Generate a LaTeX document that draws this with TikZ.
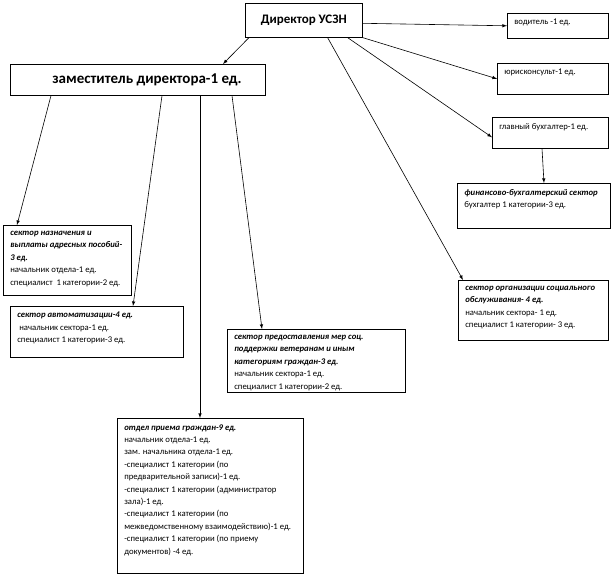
\documentclass[tikz,border=0pt]{standalone}
\usepackage{fontspec}
\setmainfont{Carlito}
\usepackage{tikz}

\newcommand{\cell}[4][t]{\begin{minipage}[c][#3pt][#1]{#2pt}\raggedright #4\end{minipage}}

\begin{document}
\begin{tikzpicture}[x=1pt,y=-1pt,>=latex,
    unit/.style={draw, anchor=north west, inner xsep=7pt, inner ysep=6pt, line width=.6pt},
    small/.style={font=\fontsize{8.7}{12.4}\selectfont},
    link/.style={->, line width=.6pt}]
             \useasboundingbox (0,0) rectangle (615,583);

             % top level
             \node[unit, font=\fontsize{13}{15}\bfseries] (dir) at (245,3) {\cell[c]{103}{22}{\centering Директор УСЗН}};
             \node[unit, font=\fontsize{15}{17}\bfseries] (dep) at (10,64) {\cell[c]{241}{19}{\hspace*{35pt}заместитель директора-1 ед.}};

             % right column
             \node[unit, small] (vod) at (507,13) {\cell{87}{13}{водитель -1 ед.}};
             \node[unit, small] (yur) at (497,63) {\cell{97}{19}{юрисконсульт-1 ед.}};
             \node[unit, small] (glav) at (492,117) {\cell{102}{19}{главный бухгалтер-1 ед.}};
             \node[unit, small] (fin) at (457,183) {\cell{139}{33}{\textbf{\textit{финансово-бухгалтерский сектор}}\\бухгалтер 1 категории-3 ед.}};
             \node[unit, small] (org) at (458,280) {\cell{136}{48}{\textbf{\textit{сектор организации социального\\обслуживания- 4 ед.}}\\начальник сектора- 1 ед.\\специалист 1 категории- 3 ед.}};

             % under the deputy
             \node[unit, small] (nazn) at (3,225) {\cell{114}{58}{\textbf{\textit{сектор назначения и\\выплаты адресных пособий-\\3 ед.}}\\начальник отдела-1 ед.\\специалист\ \ 1 категории-2 ед.}};
             \node[unit, small] (avto) at (10,306) {\cell{159}{39}{\textbf{\textit{сектор автоматизации-4 ед.}}\\\ начальник сектора-1 ед.\\специалист 1 категории-3 ед.}};
             \node[unit, small] (pred) at (227,329) {\cell{164}{51}{\textbf{\textit{сектор предоставления мер соц.\\поддержки ветеранам и иным\\категориям граждан-3 ед.}}\\начальник сектора-1 ед.\\специалист 1 категории-2 ед.}};
             \node[unit, small] (otd) at (117,418) {\cell{172}{143}{\textbf{\textit{отдел приема граждан-9 ед.}}\\начальник отдела-1 ед.\\зам. начальника отдела-1 ед.\\-специалист 1 категории (по\\предварительной записи)-1 ед.\\-специалист 1 категории (администратор\\зала)-1 ед.\\-специалист 1 категории (по\\межведомственному взаимодействию)-1 ед.\\-специалист 1 категории (по приему\\документов) -4 ед.}};

             % from the director
             \draw[link] ([xshift=4pt]dir.south west) -- ([xshift=213pt]dep.north west);
             \draw[link] ([yshift=-3pt]dir.east) -- (vod.west);
             \draw[link] (dir.south east) -- (yur.west);
             \draw[link] ([xshift=-15pt]dir.south east) -- ([yshift=-4.5pt]glav.west);
             \draw[link] ([xshift=-35pt]dir.south east) -- ([xshift=5pt]org.north west);
             \draw[link] ([xshift=50pt]glav.south west) -- ([xshift=87pt]fin.north west);

             % from the deputy
             \draw[link] ([xshift=41pt]dep.south west) -- ([xshift=14pt]nazn.north west);
             \draw[link] ([xshift=152pt]dep.south west) -- ([xshift=123pt]avto.north west);
             \draw[link] ([xshift=190pt]dep.south west) -- ([xshift=83pt]otd.north west);
             \draw[link] ([xshift=222pt]dep.south west) -- ([xshift=35pt]pred.north west);
             \end{tikzpicture}
\end{document}
